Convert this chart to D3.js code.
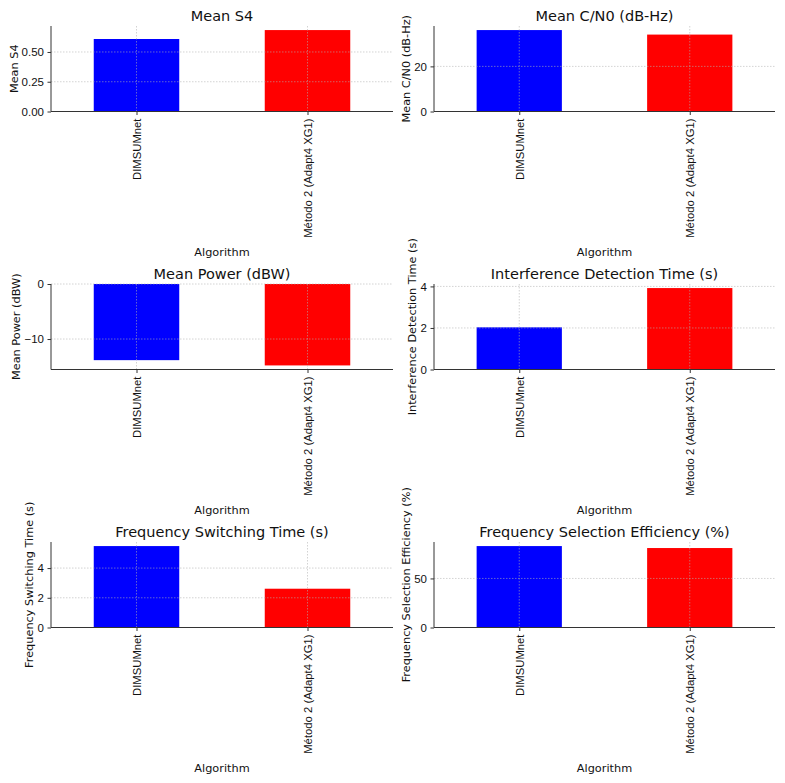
<!DOCTYPE html>
<html>
<head>
<meta charset="utf-8">
<script src="https://cdn.jsdelivr.net/npm/d3@7"></script>
<style>
  body { margin: 0; background: #fff; }
  svg { font-family: "DejaVu Sans", sans-serif; }
</style>
</head>
<body>
<div id="chart"></div>
<script>
// Data
const algorithms = ["DIMSUMnet", "Método 2 (Adapt4 XG1)"];
const barColors = ["#0000ff", "#ff0000"];

const meanS4 = [0.609, 0.684];
const meanCN0 = [36.1, 34.1];
const meanPower = [-13.84, -14.8];
const detectionTime = [2.03, 3.92];
const switchingTime = [5.48, 2.61];
const selectionEfficiency = [83.0, 81.0];

const s4Ticks = [0, 0.25, 0.5];
const cn0Ticks = [0, 20];
const powerTicks = [-10, 0];
const detectionTicks = [0, 2, 4];
const switchingTicks = [0, 2, 4];
const efficiencyTicks = [0, 50];

const panels = [
  { title: "Mean S4", ylabel: "Mean S4", values: meanS4, ticks: s4Ticks, fmt: d3.format(".2f") },
  { title: "Mean C/N0 (dB-Hz)", ylabel: "Mean C/N0 (dB-Hz)", values: meanCN0, ticks: cn0Ticks },
  { title: "Mean Power (dBW)", ylabel: "Mean Power (dBW)", values: meanPower, ticks: powerTicks },
  { title: "Interference Detection Time (s)", ylabel: "Interference Detection Time (s)", values: detectionTime, ticks: detectionTicks },
  { title: "Frequency Switching Time (s)", ylabel: "Frequency Switching Time (s)", values: switchingTime, ticks: switchingTicks },
  { title: "Frequency Selection Efficiency (%)", ylabel: "Frequency Selection Efficiency (%)", values: selectionEfficiency, ticks: efficiencyTicks }
];

const width = 785, height = 783;
const colX = [[51, 393], [434, 775]];
const rowTop = [26, 284, 542];
const plotH = 85.5;

const svg = d3.select("#chart").append("svg")
  .attr("width", width)
  .attr("height", height);

panels.forEach((p, i) => {
  const [x0, x1] = colX[i % 2];
  const top = rowTop[Math.floor(i / 2)];
  const bottom = top + plotH;

  // matplotlib-like limits: 5% margin away from the zero line
  const lo = d3.min(p.values), hi = d3.max(p.values);
  const domain = lo < 0 ? [lo * 1.05, 0] : [0, hi * 1.05];

  const y = d3.scaleLinear().domain(domain).range([bottom, top]);
  const x = d3.scaleLinear().domain([-0.5, 1.5]).range([x0, x1]);

  const g = svg.append("g");

  // bars
  g.selectAll("rect.bar")
    .data(p.values)
    .join("rect")
    .attr("class", "bar")
    .attr("x", (d, k) => x(k - 0.25))
    .attr("width", (d, k) => x(k + 0.25) - x(k - 0.25))
    .attr("y", d => y(Math.max(0, d)))
    .attr("height", d => Math.abs(y(d) - y(0)))
    .attr("fill", (d, k) => barColors[k]);

  // grid (drawn over bars, faint)
  const grid = g.append("g")
    .attr("stroke", "#b0b0b0")
    .attr("stroke-opacity", 0.7)
    .attr("stroke-width", 0.8)
    .attr("stroke-dasharray", "1.5,1.5");
  grid.selectAll("line.h")
    .data(p.ticks)
    .join("line")
    .attr("x1", x0).attr("x2", x1)
    .attr("y1", d => y(d)).attr("y2", d => y(d));
  grid.selectAll("line.v")
    .data(algorithms.map((a, k) => k))
    .join("line")
    .attr("x1", d => x(d)).attr("x2", d => x(d))
    .attr("y1", top).attr("y2", bottom);

  // y axis
  const yAxis = g.append("g")
    .attr("transform", `translate(${x0},0)`)
    .call(d3.axisLeft(y).tickValues(p.ticks).tickSize(3.5).tickPadding(3.5)
      .tickFormat(p.fmt || (d => d < 0 ? "\u2212" + Math.abs(d) : d)));
  yAxis.select(".domain").attr("stroke", "#333").attr("d", `M0,${top}V${bottom}`);
  yAxis.selectAll(".tick line").attr("stroke", "#333");
  yAxis.selectAll("text").attr("fill", "#111").style("font-size", "11.5px");

  // x axis
  const xAxis = g.append("g")
    .attr("transform", `translate(0,${bottom})`)
    .call(d3.axisBottom(x).tickValues([0, 1]).tickSize(3.5).tickFormat(k => algorithms[k]));
  xAxis.select(".domain").attr("stroke", "#333").attr("d", `M${x0},0H${x1}`);
  xAxis.selectAll(".tick line").attr("stroke", "#333");
  xAxis.selectAll("text")
    .attr("fill", "#111")
    .style("font-size", "11.3px")
    .attr("transform", "rotate(-90)")
    .attr("text-anchor", "end")
    .attr("x", -7)
    .attr("y", 0)
    .attr("dy", "0.35em");

  // title
  g.append("text")
    .attr("x", (x0 + x1) / 2)
    .attr("y", top - 5.5)
    .attr("text-anchor", "middle")
    .attr("fill", "#111")
    .style("font-size", "14.5px")
    .text(p.title);

  // y label, placed left of the tick labels
  let tickLeft = x0;
  yAxis.selectAll(".tick text").each(function () {
    const b = this.getBBox();
    tickLeft = Math.min(tickLeft, x0 - 7 - b.width);
  });
  g.append("text")
    .attr("transform", `translate(${tickLeft - 8},${(top + bottom) / 2}) rotate(-90)`)
    .attr("text-anchor", "middle")
    .attr("dy", "0.35em")
    .attr("fill", "#111")
    .style("font-size", "11.3px")
    .text(p.ylabel);

  // x label
  g.append("text")
    .attr("x", (x0 + x1) / 2)
    .attr("y", bottom + 144.5)
    .attr("text-anchor", "middle")
    .attr("fill", "#111")
    .style("font-size", "11.3px")
    .text("Algorithm");
});
</script>
</body>
</html>
